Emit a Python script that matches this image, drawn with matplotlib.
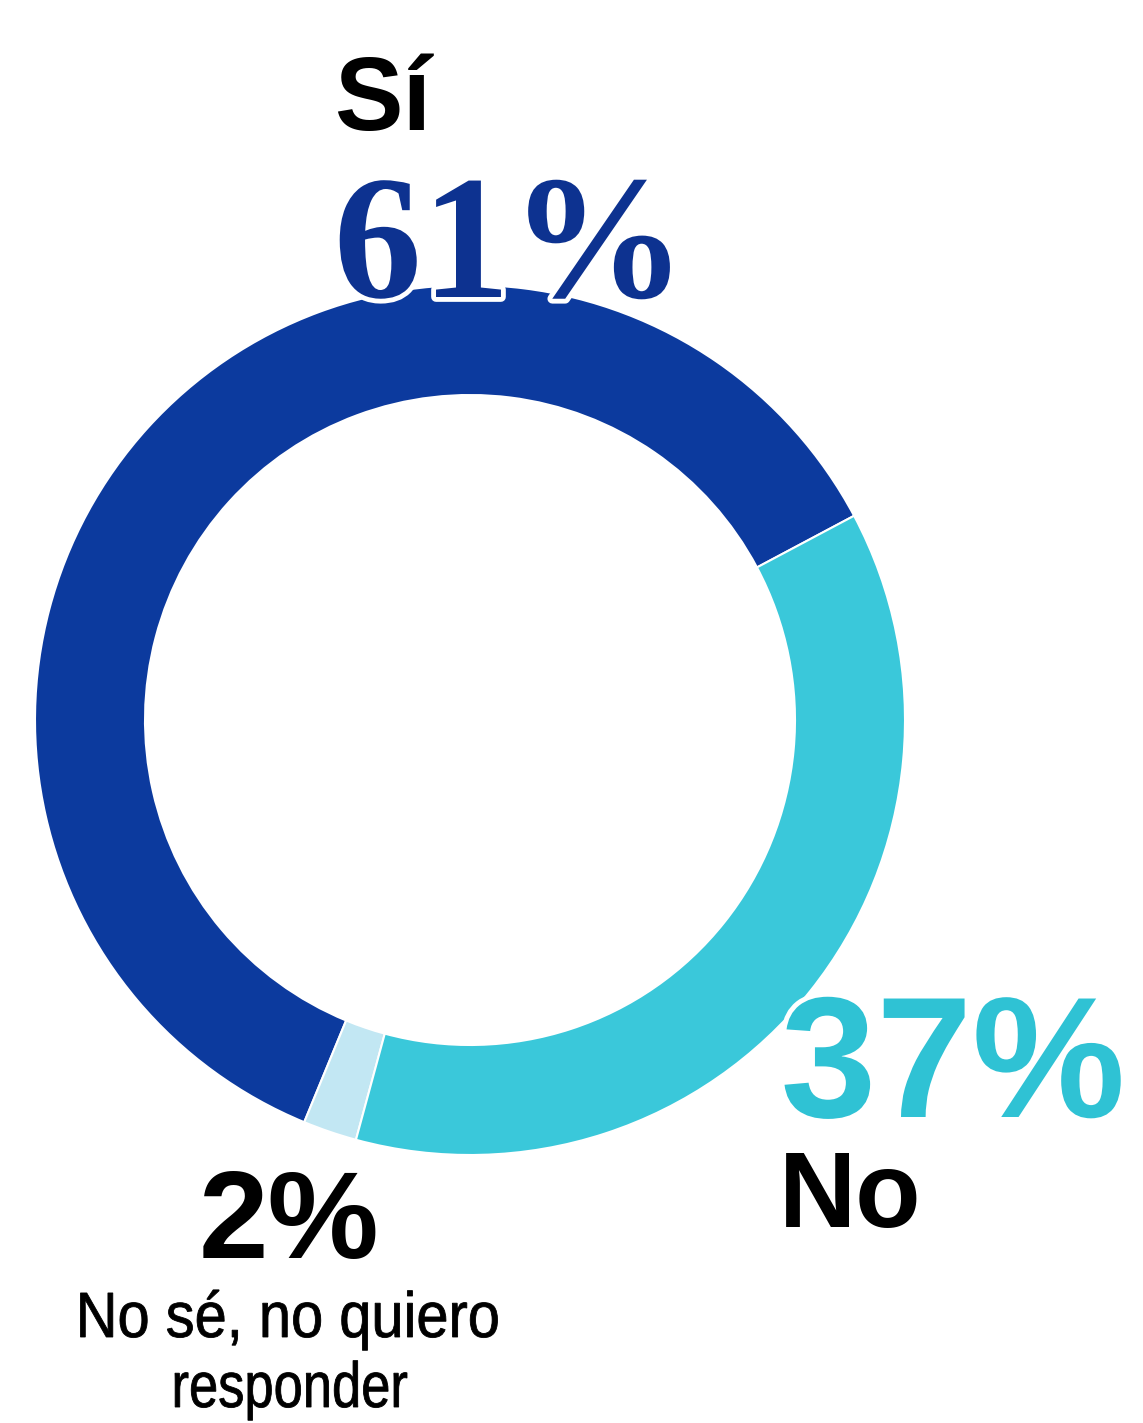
import matplotlib
matplotlib.use("Agg")
import matplotlib.pyplot as plt
import matplotlib.patheffects as pe
from matplotlib.textpath import TextPath
from matplotlib.font_manager import FontProperties
from matplotlib.patches import PathPatch
from matplotlib.transforms import Affine2D

W, H = 1143, 1423

labels = ["Sí", "No sé, no quiero responder", "No"]
values = [61, 2, 37]
pct_labels = ["61%", "2%", "37%"]
colors = ["#0c3a9e", "#c2e7f3", "#3ac8da"]
sub_lines = ["No sé, no quiero", "responder"]

fig = plt.figure(figsize=(W / 100, H / 100), dpi=100)
ax = fig.add_axes([0, 0, 1, 1])

cx, cy = 470, H - 720
R = 435
ax.pie(values, colors=colors, startangle=28, counterclock=True,
       center=(cx, cy), radius=R, frame=True,
       wedgeprops=dict(width=110, edgecolor="white", linewidth=1.5))
ax.set_xlim(0, W)
ax.set_ylim(0, H)
ax.set_aspect("equal")
ax.axis("off")

def Y(y):
    return H - y

sans_b = dict(family=["Liberation Sans", "DejaVu Sans"], fontweight="bold")
outline = [pe.Stroke(linewidth=7, foreground="white"), pe.Normal()]

ax.text(383, Y(130), labels[0], ha="center", va="baseline", fontsize=74,
        color="black", zorder=5, **sans_b)
ax.text(510, Y(297), pct_labels[0], ha="center", va="baseline", fontsize=127,
        color="#0d3290", family=["Liberation Serif", "DejaVu Serif"],
        fontweight="bold", zorder=6, path_effects=outline)
ax.text(953, Y(1117), pct_labels[2], ha="center", va="baseline", fontsize=124,
        color="#2fc2d4", zorder=6, path_effects=outline, **sans_b)
ax.text(850, Y(1227), labels[2], ha="center", va="baseline", fontsize=77,
        color="black", zorder=5, **sans_b)
ax.text(289, Y(1258), pct_labels[1], ha="center", va="baseline", fontsize=90,
        color="black", zorder=5, **sans_b)

# condensed subtitle lines (horizontally squeezed text paths)
fp = FontProperties(family="Liberation Sans")
def condensed(s, xc, base, size_px, target_w):
    tp = TextPath((0, 0), s, prop=fp, size=size_px)
    ext = tp.get_extents()
    sx = target_w / ext.width
    tr = (Affine2D().translate(-(ext.x0 + ext.width / 2), 0)
          .scale(sx, 1).translate(xc, Y(base)))
    ax.add_patch(PathPatch(tr.transform_path(tp), facecolor="black",
                           edgecolor="black", linewidth=0.6, zorder=5))

condensed(sub_lines[0], 289, 1337, 64, 417)
condensed(sub_lines[1], 291, 1407, 64, 232)

fig.savefig("out.png", dpi=100, facecolor="white")
